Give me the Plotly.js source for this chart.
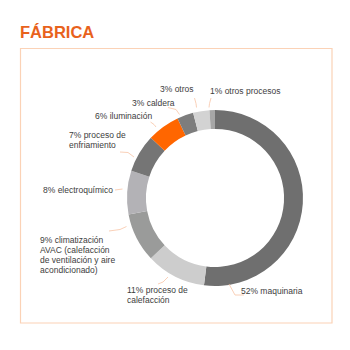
<!DOCTYPE html>
<html>
<head>
<meta charset="utf-8">
<script src="https://cdn.plot.ly/plotly-3.0.1.min.js"></script>
<style>html,body{margin:0;padding:0;background:#fff;}#chart{width:350px;height:350px;}</style>
</head>
<body>
<div id="chart"></div>
<script>
// ---- data ----
const categories = ['maquinaria','proceso de calefacción','climatización AVAC (calefacción de ventilación y aire acondicionado)','electroquímico','proceso de enfriamiento','iluminación','caldera','otros','otros procesos'];
const values = [52, 11, 9, 8, 7, 6, 3, 3, 1];
const labelLines = [
  ['maquinaria'],
  ['proceso de', 'calefacción'],
  ['climatización', 'AVAC (calefacción', 'de ventilación y aire', 'acondicionado)'],
  ['electroquímico'],
  ['proceso de', 'enfriamiento'],
  ['iluminación'],
  ['caldera'],
  ['otros'],
  ['otros procesos']
];
const titleText = 'FÁBRICA';

// ---- styles / layout positions (pixels) ----
const colors = ['#6f6f6f','#cdcdcd','#9a9b9a','#b3b2b6','#757575','#ff6600','#7d7d7d','#d3d3d3','#a6a6a6'];
const W = 350, H = 350;
const labelPos = [ // left x, center y of first line
  [239, 291], [125, 290], [38, 239.5], [41, 190], [67, 134.5], [93, 116], [130, 103], [158, 88.5], [208, 91]
];
const leaders = [
  [[229,284],[235,295],[244,295]],
  [[158,284],[163,282],[168,277]],
  [[109,231],[120,229.5],[126.5,226.5]],
  [[115,190],[122.5,189]],
  [[120,152],[128,152.5],[134,157]],
  [[150.5,122],[154,124.5],[156,127]],
  [[168,107.5],[176,109.5],[179.5,114.5]],
  [[194.5,98],[196,103.5],[196.5,107.5]],
  [[211,98],[209.5,103.5],[209,107.5]]
];
const px = x => x / W, py = y => 1 - y / H;
const cx = 215, cy = 198, R = 88;

const annotations = [];
labelLines.forEach((lines, i) => {
  lines.forEach((ln, j) => {
    const t = j === 0 ? values[i] + '% ' + ln : ln;
    annotations.push({
      xref: 'paper', yref: 'paper', x: px(labelPos[i][0]), y: py(labelPos[i][1] + j * 10.3),
      xanchor: 'left', yanchor: 'middle', showarrow: false, text: t,
      font: {family: 'Liberation Sans, Arial, sans-serif', size: 8.5, color: '#3d3d3d'}
    });
  });
});

const shapes = [{
  type: 'rect', xref: 'paper', yref: 'paper', x0: px(20.5), x1: px(332), y0: py(323), y1: py(48.5),
  line: {color: '#fbd2b6', width: 1.2}
}];
leaders.forEach(pts => {
  const d = pts.map((p, k) => (k ? 'L' : 'M') + px(p[0]) + ',' + py(p[1])).join(' ');
  shapes.push({type: 'path', xref: 'paper', yref: 'paper', path: d, line: {color: '#f7c4a6', width: 0.8}});
});

const trace = {
  type: 'pie', labels: categories, values: values, sort: false, direction: 'clockwise', rotation: 0,
  hole: 0.785, textinfo: 'none', hoverinfo: 'label+percent',
  marker: {colors: colors, line: {width: 0}},
  domain: {x: [px(cx - R), px(cx + R)], y: [py(cy + R), py(cy - R)]},
  showlegend: false
};

const layout = {
  width: W, height: H, margin: {l: 0, r: 0, t: 0, b: 0},
  paper_bgcolor: '#fff', plot_bgcolor: '#fff', showlegend: false,
  title: {text: '<b>' + titleText + '</b>', xref: 'paper', yref: 'paper', x: px(20), xanchor: 'left', y: py(32.5), yanchor: 'middle',
    font: {family: 'Liberation Sans, Arial, sans-serif', size: 16.5, color: '#e8621c'}},
  annotations: annotations, shapes: shapes
};
Plotly.newPlot('chart', [trace], layout, {displayModeBar: false, staticPlot: true});
</script>
</body>
</html>
